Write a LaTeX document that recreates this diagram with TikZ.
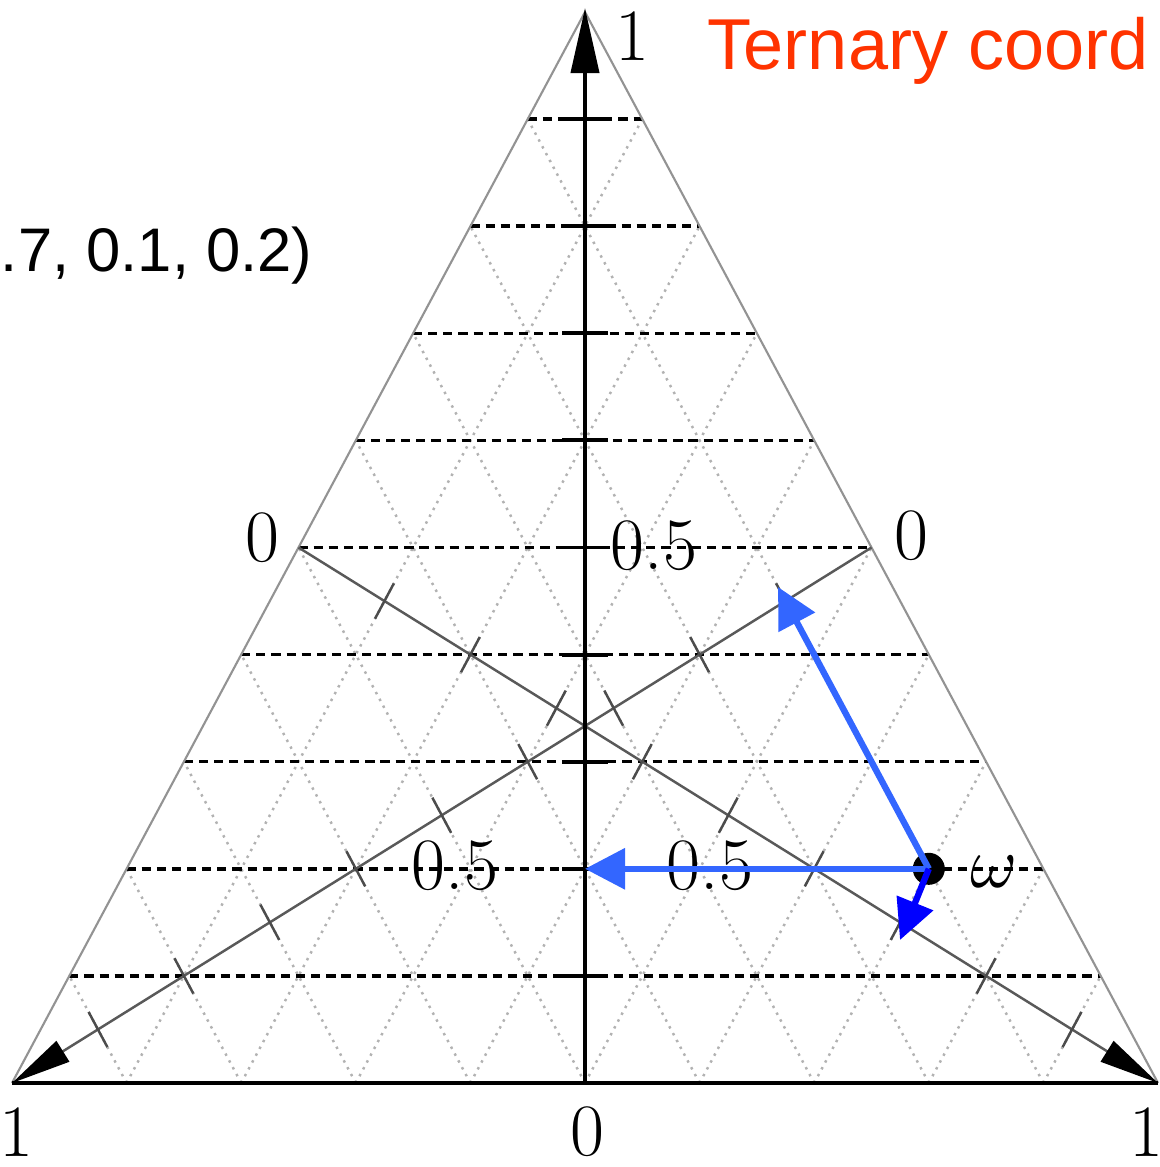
\documentclass[tikz,border=0pt]{standalone}
\usepackage{fontspec}
\newfontfamily\labelsans{Liberation Sans}
\usepackage{tikz}
\usetikzlibrary{arrows.meta, calc}
\definecolor{titlered}{RGB}{255,51,0}
\definecolor{arrowblue}{RGB}{51,102,255}
\definecolor{darkarrow}{RGB}{0,0,255}

\begin{document}
\begin{tikzpicture}[x=0.01cm, y=-0.01cm,
  gridline/.style={gray!60, dash pattern=on 0.7pt off 1.5pt, line width=0.7pt},
  levelline/.style={black, dash pattern=on 2.6pt off 1.7pt, line width=1pt},
  sideline/.style={gray!85, line width=0.6pt},
  baseedge/.style={black, line width=1.1pt},
  medianaxis/.style={black!65, line width=0.7pt, -{Triangle[length=6mm, width=2.4mm, color=black]}},
  vaxis/.style={black, line width=1.1pt, -{Triangle[length=6.5mm, width=2.8mm]}},
  tickmark/.style={black!70, line width=0.7pt},
  axistick/.style={black, line width=1.1pt},
  axislabel/.style={font=\fontsize{21}{24}\selectfont, inner sep=0pt},
  bluearrow/.style={arrowblue, line width=1.8pt, -{Triangle[length=4mm, width=4mm]}},
  darkbluearrow/.style={darkarrow, line width=1.8pt, -{Triangle[length=4mm, width=3.8mm]}}
]
\useasboundingbox (0,0) rectangle (1159,1167);

\coordinate (top) at (585,12);
\coordinate (bl) at (12,1083);
\coordinate (br) at (1158,1083);
\coordinate (base0) at (585,1083);
\coordinate (axistip) at (585,8);
\coordinate (midL) at ($(top)!0.5!(bl)$);
\coordinate (midR) at ($(top)!0.5!(br)$);

\foreach \k in {1,...,9} {
  \draw[gridline] ($(bl)!\k/10!(br)$) -- ($(top)!\k/10!(br)$);
  \draw[gridline] ($(bl)!\k/10!(br)$) -- ($(bl)!\k/10!(top)$);
}
\foreach \k in {1,...,9}
  \draw[levelline] ($(bl)!\k/10!(top)$) -- ($(br)!\k/10!(top)$);

\draw[sideline] (bl) -- (top) -- (br);
\draw[baseedge] (bl) -- (br);

\draw[medianaxis] (midL) -- (br);
\draw[medianaxis] (midR) -- (bl);
\foreach \k in {1,...,9} {
  \draw[tickmark] ($(midL)!\k/10!(br)+(-9.4,17.6)$) -- ($(midL)!\k/10!(br)+(9.4,-17.6)$);
  \draw[tickmark] ($(midR)!\k/10!(bl)+(9.4,17.6)$) -- ($(midR)!\k/10!(bl)+(-9.4,-17.6)$);
}

\draw[vaxis] (base0) -- (axistip);
\foreach \k in {1,...,9}
  \draw[axistick] ($(base0)!\k/10!(top)+(-23,0)$) -- ($(base0)!\k/10!(top)+(23,0)$);

\node[axislabel] (topone) at (632,36) {1};
\node[axislabel] (leftzero) at (262,538) {0};
\node[axislabel] (rightzero) at (911,536) {0};
\node[axislabel] (blone) at (16,1132) {1};
\node[axislabel] (basezero) at (587,1132) {0};
\node[axislabel] (brone) at (1146,1132) {1};
\node[axislabel] (vhalf) at (654,546) {0.5};
\node[axislabel] (lhalf) at (455,866) {0.5};
\node[axislabel] (rhalf) at (710,866) {0.5};
\node[axislabel] (omegalabel) at (994,872) {$\omega$};

\node[font=\labelsans\fontsize{17.5}{20}\selectfont, anchor=base east, inner sep=0pt] (coordtext) at (313,272) {.7, 0.1, 0.2)};
\node[font=\labelsans\fontsize{20.5}{24}\selectfont, text=titlered, anchor=base west, inner sep=0pt] (title) at (707,70) {Ternary coord};

\node[circle, fill=black, minimum size=0.32cm, inner sep=0pt] (omega) at (barycentric cs:br=0.7,bl=0.1,top=0.2) {};
\coordinate (sidetip) at (778,587);
\coordinate (downtip) at (900,940);
\draw[bluearrow] (omega.center) -- (sidetip);
\draw[bluearrow] (omega.center) -- (omega.center -| base0);
\draw[darkbluearrow] (omega.center) -- (downtip);
\end{tikzpicture}
\end{document}
